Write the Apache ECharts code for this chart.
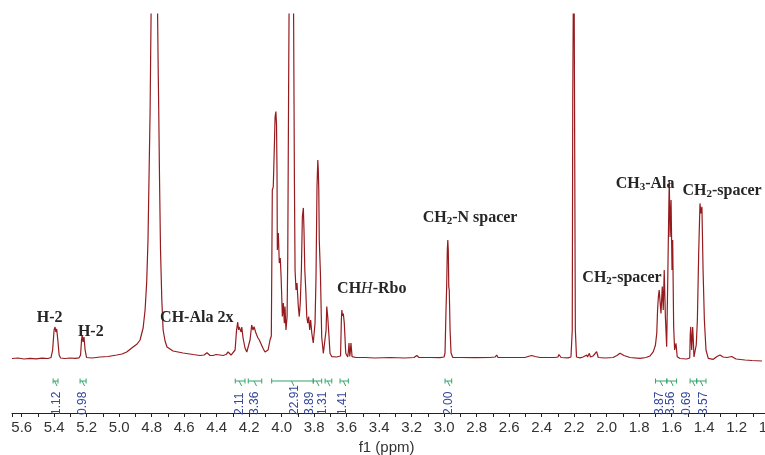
<!DOCTYPE html>
<html><head><meta charset="utf-8">
<script src="https://cdn.jsdelivr.net/npm/echarts@6/dist/echarts.min.js"></script>
<style>html,body{margin:0;padding:0;background:#fff}#c{width:765px;height:455px}</style>
</head><body><div id="c"></div>
<script>
// chemical shift (ppm) of each read point
const shiftPpm = [
5.660,5.623,5.586,5.549,5.512,5.475,5.438,5.420,5.410,5.401,
5.395,5.390,5.385,5.378,5.370,5.361,5.334,5.303,5.272,5.247,
5.238,5.232,5.228,5.223,5.217,5.210,5.201,5.167,5.118,5.069,
5.015,4.983,4.954,4.915,4.890,4.872,4.853,4.841,4.831,4.823,
4.817,4.810,4.807,4.804,4.786,4.764,4.761,4.757,4.752,4.746,
4.738,4.730,4.718,4.706,4.669,4.607,4.546,4.503,4.478,4.460,
4.441,4.423,4.404,4.392,4.380,4.361,4.343,4.330,4.312,4.300,
4.287,4.278,4.271,4.266,4.262,4.257,4.250,4.246,4.238,4.232,
4.226,4.215,4.207,4.195,4.185,4.177,4.170,4.161,4.154,4.146,
4.138,4.127,4.113,4.103,4.092,4.084,4.072,4.064,4.058,4.052,
4.046,4.041,4.036,4.032,4.029,4.027,4.021,4.015,4.009,4.004,
3.996,3.990,3.984,3.980,3.974,3.967,3.963,3.958,3.955,3.943,
3.927,3.922,3.918,3.912,3.906,3.898,3.892,3.886,3.879,3.873,
3.867,3.863,3.858,3.852,3.846,3.840,3.834,3.828,3.822,3.815,
3.806,3.795,3.789,3.783,3.778,3.775,3.772,3.769,3.762,3.754,
3.744,3.734,3.727,3.723,3.717,3.709,3.703,3.692,3.662,3.638,
3.633,3.630,3.626,3.621,3.615,3.606,3.594,3.589,3.586,3.581,
3.577,3.574,3.567,3.543,3.487,3.426,3.334,3.241,3.186,3.169,
3.155,3.087,3.026,3.001,2.995,2.989,2.985,2.981,2.978,2.975,
2.972,2.969,2.964,2.958,2.948,2.903,2.810,2.718,2.687,2.677,
2.669,2.564,2.503,2.484,2.462,2.441,2.410,2.318,2.300,2.294,
2.287,2.281,2.238,2.220,2.212,2.209,2.206,2.204,2.200,2.197,
2.193,2.186,2.164,2.146,2.123,2.118,2.107,2.100,2.084,2.062,
2.052,2.010,1.961,1.937,1.918,1.894,1.857,1.795,1.758,1.734,
1.713,1.700,1.692,1.687,1.682,1.677,1.672,1.666,1.658,1.652,
1.646,1.639,1.631,1.625,1.618,1.615,1.610,1.604,1.598,1.594,
1.588,1.582,1.574,1.566,1.549,1.508,1.489,1.486,1.483,1.477,
1.473,1.471,1.467,1.463,1.457,1.449,1.442,1.434,1.426,1.420,
1.414,1.407,1.399,1.389,1.375,1.344,1.321,1.303,1.284,1.260,
1.231,1.204,1.149,1.106,1.044
];
// signal intensity (arbitrary units; 100 = top of the plotting window)
const intensity = [
0.14,0.29,0.00,0.20,0.06,0.23,0.14,0.43,2.61,8.41,
9.28,7.83,8.70,5.51,1.16,0.29,0.14,0.29,0.20,0.35,
1.16,5.51,6.96,4.93,6.38,2.61,0.43,0.29,0.58,0.72,
1.16,1.45,2.03,3.48,4.35,5.51,8.99,14.2,22.3,34.5,
51.9,72.2,86.7,100,420,100,86.7,72.2,51.9,31.6,
17.1,8.41,5.22,3.48,2.32,1.74,1.30,1.01,1.16,1.83,
1.01,1.01,1.30,1.74,1.16,1.01,1.30,2.03,1.16,1.16,
2.61,8.41,10.7,8.41,9.28,9.57,7.83,9.28,6.09,4.64,
3.19,2.03,2.03,5.51,9.86,8.41,9.36,7.83,6.96,6.09,
5.51,4.35,2.90,2.03,1.88,2.61,5.51,6.67,49.0,49.9,
60.6,70.1,71.7,67.8,53.9,31.6,36.5,27.8,29.3,23.9,
12.3,16.2,10.4,15.2,8.41,12.3,29.7,75.1,100,300,
100,51.9,25.8,20.0,22.0,15.2,12.3,16.2,25.8,41.2,
43.8,37.4,25.8,20.0,12.3,10.4,12.3,8.41,11.3,7.54,
4.64,10.4,23.9,49.9,57.7,54.8,49.0,34.5,24.9,6.46,
1.65,1.16,8.41,15.2,12.3,6.46,1.65,0.67,0.58,0.87,
11.3,14.2,12.5,13.2,10.4,1.65,0.58,2.61,4.64,0.72,
2.61,4.64,0.67,0.43,0.43,0.29,0.43,0.29,0.43,1.01,
0.43,0.43,0.38,0.58,1.74,14.2,20.9,31.6,34.5,31.6,
20.9,20.0,8.41,1.74,0.49,0.43,0.38,0.43,0.58,1.16,
0.43,0.43,0.43,0.72,1.01,0.72,0.43,0.43,0.58,1.30,
1.16,0.43,0.35,0.58,8.41,75.1,100,600,100,60.6,
8.41,0.58,0.35,0.58,1.16,0.58,1.65,0.58,0.87,2.12,
0.43,0.29,0.43,1.01,1.65,1.01,0.43,0.20,0.43,0.87,
2.12,4.06,7.45,14.2,18.1,20.0,20.0,13.2,21.0,14.2,
25.8,12.3,3.57,21.0,43.2,51.9,35.4,46.1,25.8,34.5,
9.36,2.61,4.55,0.67,0.14,0.00,0.29,6.96,9.36,2.61,
6.96,9.28,5.51,0.58,0.58,4.06,11.3,30.6,45.1,42.2,
44.1,25.8,11.3,2.61,0.20,-0.09,0.72,1.16,0.58,0.43,
0.72,0.00,-0.29,-0.43,-0.58
];
const tickLabels = ['1.0','1.2','1.4','1.6','1.8','2.0','2.2','2.4','2.6','2.8','3.0','3.2','3.4','3.6','3.8','4.0','4.2','4.4','4.6','4.8','5.0','5.2','5.4','5.6'];

// integration regions
const integralFrom  = [5.407,5.241,4.286,4.206,4.062,3.806,3.733,3.641,2.995,1.700,1.630,1.487,1.446];
const integralTo    = [5.377,5.204,4.226,4.123,3.806,3.754,3.692,3.590,2.954,1.630,1.570,1.446,1.389];
const integralValue = ['1.12','0.98','2.11','3.36','22.91','3.89','1.31','1.41','2.00','3.87','3.56','0.69','3.57'];
const integralLabelAt = [5.385,5.223,4.257,4.164,3.918,3.826,3.748,3.625,2.975,1.676,1.604,1.510,1.406];

// peak assignments
const annotationText = ['{b|H-2}','{b|H-2}','{b|CH-Ala 2x}','{b|CH}{i|H}{b|-Rbo}','{b|CH}{s|2}{b|-N spacer}','{b|CH}{s|2}{b|-spacer}','{b|CH}{s|3}{b|-Ala}','{b|CH}{s|2}{b|-spacer}'];
const annotationPpm = [5.428,5.175,4.523,3.446,2.841,1.906,1.764,1.290];
const annotationHeight = [11.8,7.8,12.0,20.3,41.0,23.6,50.7,48.7];

const spectrum = shiftPpm.map((p, i) => [p, intensity[i]]);
const integrals = integralFrom.map((f, i) => [f, integralTo[i], i, integralLabelAt[i]]);
const annotations = annotationPpm.map((p, i) => [p, annotationHeight[i], i]);

const chart = echarts.init(document.getElementById('c'), null, {renderer: 'canvas'});
const serif = "'Liberation Serif','DejaVu Serif',serif";
const sans = "'Liberation Sans',Arial,sans-serif";
chart.setOption({
  animation: false,
  backgroundColor: '#ffffff',
  grid: {left: 12, top: 14, width: 757.2, height: 399, containLabel: false, outerBoundsMode: 'none'},
  xAxis: {
    type: 'value', inverse: true, min: 1.0, max: 5.66, interval: 0.2,
    name: 'f1 (ppm)', nameLocation: 'middle', nameGap: 25,
    nameTextStyle: {fontFamily: sans, fontSize: 15, color: '#333', padding: [0, 8, 0, 0]},
    axisLine: {onZero: false, lineStyle: {color: '#222', width: 1}},
    axisTick: {show: true, inside: false, length: 4, lineStyle: {color: '#222'}},
    minorTick: {show: true, splitNumber: 2, length: 4, lineStyle: {color: '#222'}},
    splitLine: {show: false}, minorSplitLine: {show: false},
    axisLabel: {
      fontFamily: sans, fontSize: 15, color: '#333', margin: 7, showMaxLabel: false, hideOverlap: false,
      formatter: v => { const s = (Math.round(v * 10) / 10).toFixed(1); return tickLabels.includes(s) && Math.abs(v - parseFloat(s)) < 1e-6 ? s : ''; }
    }
  },
  yAxis: {type: 'value', min: -15.65, max: 100, show: false, splitLine: {show: false}},
  series: [
    {
      type: 'line', data: spectrum, showSymbol: false, symbol: 'none', smooth: false,
      clip: true, sampling: 'none',
      lineStyle: {color: '#961b1f', width: 1.2}, z: 2
    },
    {
      type: 'custom', data: integrals, clip: false, z: 3,
      renderItem: (params, api) => {
        const a = api.coord([api.value(0), 0]);
        const b = api.coord([api.value(1), 0]);
        const lx = api.coord([api.value(3), 0])[0];
        const y0 = a[1] + 22;
        const yb = a[1] + 56;
        const mid = (a[0] + b[0]) / 2;
        const green = '#35a46c';
        return {
          type: 'group',
          children: [
            {type: 'line', shape: {x1: a[0], y1: y0, x2: b[0], y2: y0}, style: {stroke: green, lineWidth: 1}},
            {type: 'line', shape: {x1: a[0], y1: y0 - 2.5, x2: a[0], y2: y0 + 2.5}, style: {stroke: green, lineWidth: 1}},
            {type: 'line', shape: {x1: b[0], y1: y0 - 2.5, x2: b[0], y2: y0 + 2.5}, style: {stroke: green, lineWidth: 1}},
            {type: 'line', shape: {x1: mid - 1, y1: y0, x2: mid + 1.5, y2: y0 + 5}, style: {stroke: green, lineWidth: 1}},
            {type: 'text', x: lx, y: yb, rotation: Math.PI / 2,
             style: {text: integralValue[api.value(2)], align: 'left', verticalAlign: 'middle',
                     textAlign: 'left', textVerticalAlign: 'middle',
                     fontFamily: sans, fontSize: 12, fill: '#34479a'}}
          ]
        };
      }
    },
    {
      type: 'custom', data: annotations, clip: false, z: 4,
      renderItem: (params, api) => {
        const p = api.coord([api.value(0), api.value(1)]);
        const base = {fontFamily: serif, fontWeight: 'bold', fontSize: 16, fill: '#262626', lineHeight: 18};
        return {
          type: 'text', x: p[0], y: p[1],
          style: {
            text: annotationText[api.value(2)], align: 'center', verticalAlign: 'middle',
            textAlign: 'center', textVerticalAlign: 'middle',
            rich: {
              b: base,
              i: {fontFamily: serif, fontStyle: 'italic', fontWeight: 'normal', fontSize: 16, fill: '#262626', lineHeight: 18},
              s: {fontFamily: serif, fontWeight: 'bold', fontSize: 11, fill: '#262626', lineHeight: 11, verticalAlign: 'bottom'}
            }
          }
        };
      }
    }
  ]
});
</script></body></html>
